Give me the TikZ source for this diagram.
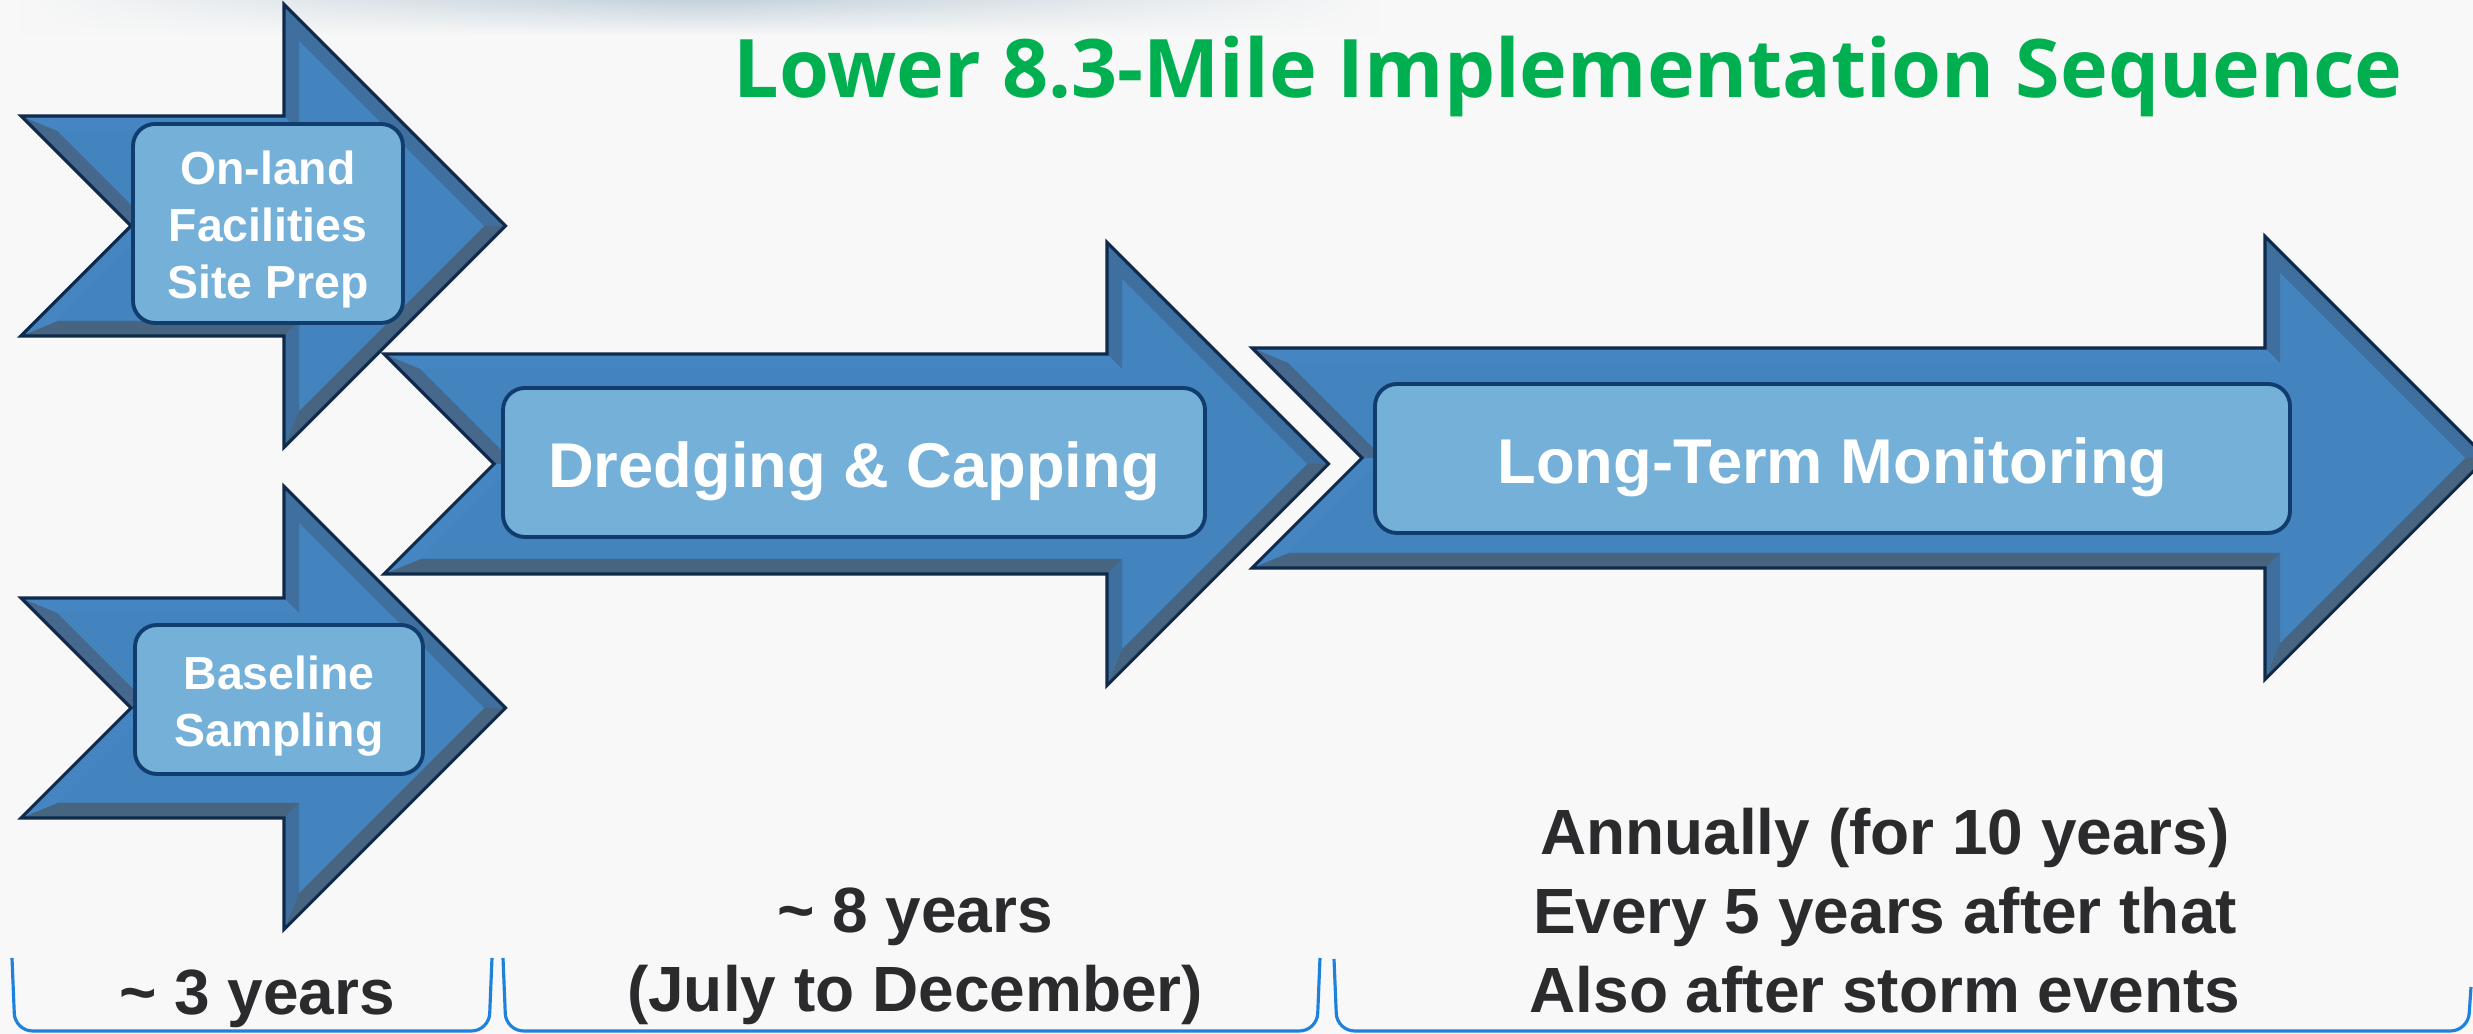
\documentclass[tikz,border=0pt]{standalone}
\usepackage{fontspec}
\setmainfont{Liberation Sans}
\newfontfamily\titlefont{Open Sans}
\usepackage{tikz}
\usetikzlibrary{fadings}

\definecolor{pagebg}{RGB}{248,248,248}
\definecolor{hazeblue}{RGB}{196,210,220}
\definecolor{arrowblue}{RGB}{67,131,190}
\definecolor{bevlight}{RGB}{69,134,194}
\definecolor{bevmid}{RGB}{63,111,158}
\definecolor{bevgrey}{RGB}{70,104,140}
\definecolor{bevdark}{RGB}{71,100,128}
\definecolor{arrowedge}{RGB}{15,42,75}
\definecolor{boxblue}{RGB}{116,176,216}
\definecolor{boxedge}{RGB}{16,60,110}
\definecolor{labelgrey}{RGB}{43,43,46}
\definecolor{titlegreen}{RGB}{0,176,80}
\definecolor{spanblue}{RGB}{30,130,220}

\tikzfading[name=haze ends, left color=transparent!100, right color=transparent!100, middle color=transparent!0]

% extra room above the first line, so the label sits a bit low in its box
\def\boxlead{\rule{0pt}{13.1pt}}

\tikzset{
  phasebox/.style={draw=boxedge, line width=1.1pt, fill=boxblue, rounded corners=0.22cm,
    text=white, align=center, inner sep=0pt, font=\bfseries\fontsize{13.2}{16.2}\selectfont},
  phasebig/.style={phasebox, font=\bfseries\fontsize{18}{22}\selectfont,
    execute at begin node={\rule{0pt}{18pt}}},
  spanlabel/.style={text=labelgrey, align=center, inner sep=0pt, font=\bfseries\fontsize{18.2}{22.5}\selectfont},
  spanbracket/.style={draw=spanblue, line width=0.9pt, rounded corners=5pt},
}

% bevelled block arrow: (tail x : head x : centre y)
\def\bevelarrow(#1:#2:#3){
  \fill[arrowblue] ({#1},{#3+1.1}) -- ({#2},{#3+1.1}) -- ({#2},{#3+2.215}) -- ({#2+2.215},{#3})
    -- ({#2},{#3-2.215}) -- ({#2},{#3-1.1}) -- ({#1},{#3-1.1}) -- ({#1+1.1},{#3}) -- cycle;
  \fill[bevlight] ({#1},{#3+1.1}) -- ({#2},{#3+1.1}) -- ({#2+0.15},{#3+0.95}) -- ({#1+0.362},{#3+0.95}) -- cycle;
  \fill[bevmid] ({#2},{#3+1.1}) -- ({#2},{#3+2.215}) -- ({#2+0.15},{#3+1.853}) -- ({#2+0.15},{#3+0.95}) -- cycle;
  \fill[bevmid] ({#2},{#3+2.215}) -- ({#2+2.215},{#3}) -- ({#2+2.003},{#3}) -- ({#2+0.15},{#3+1.853}) -- cycle;
  \fill[bevdark] ({#2+2.215},{#3}) -- ({#2},{#3-2.215}) -- ({#2+0.15},{#3-1.853}) -- ({#2+2.003},{#3}) -- cycle;
  \fill[bevmid] ({#2},{#3-2.215}) -- ({#2},{#3-1.1}) -- ({#2+0.15},{#3-0.95}) -- ({#2+0.15},{#3-1.853}) -- cycle;
  \fill[bevdark] ({#2},{#3-1.1}) -- ({#1},{#3-1.1}) -- ({#1+0.362},{#3-0.95}) -- ({#2+0.15},{#3-0.95}) -- cycle;
  \fill[bevlight] ({#1},{#3-1.1}) -- ({#1+1.1},{#3}) -- ({#1+1.312},{#3}) -- ({#1+0.362},{#3-0.95}) -- cycle;
  \fill[bevgrey] ({#1+1.1},{#3}) -- ({#1},{#3+1.1}) -- ({#1+0.362},{#3+0.95}) -- ({#1+1.312},{#3}) -- cycle;
  \draw[arrowedge, line width=0.9pt, line join=miter] ({#1},{#3+1.1}) -- ({#2},{#3+1.1}) -- ({#2},{#3+2.215}) -- ({#2+2.215},{#3})
    -- ({#2},{#3-2.215}) -- ({#2},{#3-1.1}) -- ({#1},{#3-1.1}) -- ({#1+1.1},{#3}) -- cycle;
}

\begin{document}
\begin{tikzpicture}
  \useasboundingbox (0,0) rectangle (24.73,10.34);
  \clip (0,0) rectangle (24.73,10.34);
  \fill[pagebg] (0,0) rectangle (24.73,10.34);
  % soft shadow along the top edge
  \shade[top color=hazeblue, bottom color=pagebg, path fading=haze ends] (0.2,10.34) rectangle (13.8,9.98);

  \node[anchor=base, text=titlegreen, font=\titlefont\bfseries\fontsize{23}{28}\selectfont] (title) at (15.68,9.36) {Lower 8.3-Mile Implementation Sequence};

  % arrows, left to right
  \bevelarrow(0.21:2.84:8.08)
  \node[phasebox, minimum width=2.70cm, minimum height=1.99cm] (onland) at (2.68,8.105) {\boxlead On-land\\Facilities\\Site Prep};

  \bevelarrow(0.21:2.84:3.26)
  \node[phasebox, minimum width=2.88cm, minimum height=1.49cm] (baseline) at (2.79,3.345) {\boxlead Baseline\\Sampling};

  \bevelarrow(3.84:11.07:5.70)
  \node[phasebig, minimum width=7.02cm, minimum height=1.49cm] (dredging) at (8.54,5.715) {Dredging \& Capping};

  \bevelarrow(12.52:22.65:5.76)
  \node[phasebig, minimum width=9.15cm, minimum height=1.49cm] (monitoring) at (18.325,5.755) {Long-Term Monitoring};

  % durations underneath
  \draw[spanbracket] (0.12,0.76) -- (0.15,0.03) -- (4.89,0.03) -- (4.92,0.76);
  \draw[spanbracket] (5.03,0.76) -- (5.06,0.03) -- (13.17,0.03) -- (13.20,0.76);
  \draw[spanbracket] (13.34,0.75) -- (13.37,0.03) -- (24.68,0.03) -- (24.71,0.47);

  \node[spanlabel, anchor=base] (dur3) at (2.57,0.19) {\textasciitilde{} 3 years};
  \node[spanlabel, anchor=base] (dur8) at (9.15,0.22) {\textasciitilde{} 8 years\\(July to December)};
  \node[spanlabel, anchor=base] (durmon) at (18.85,0.21) {Annually (for 10 years)\\Every 5 years after that\\Also after storm events};
\end{tikzpicture}
\end{document}
